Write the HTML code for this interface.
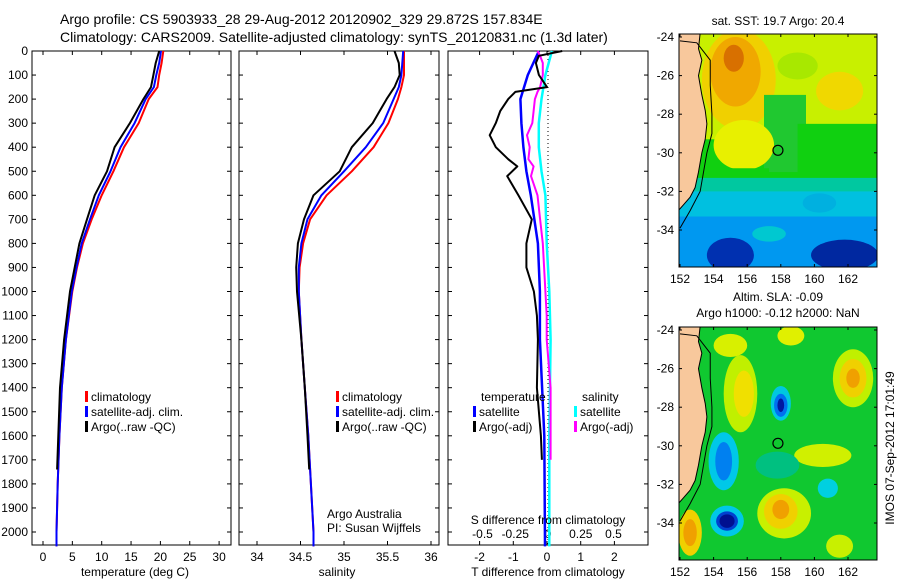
<!DOCTYPE html>
<html><head><meta charset="utf-8"><style>
html,body{margin:0;padding:0;background:#fff;}
svg{display:block;font-family:"Liberation Sans",sans-serif;}
text{fill:#000;}
</style></head><body>
<svg id="fig" width="900" height="580" viewBox="0 0 900 580" xmlns="http://www.w3.org/2000/svg">
<text x="60" y="24" font-size="14">Argo profile: CS 5903933_28 29-Aug-2012 20120902_329 29.872S 157.834E</text>
<text x="60" y="42" font-size="14">Climatology: CARS2009. Satellite-adjusted climatology: synTS_20120831.nc (1.3d later)</text>
<g id="g"></g>
</svg>
<script>
// ---- data ----
const depths = [0,50,100,150,200,300,400,500,600,700,800,900,1000,1200,1400,1600,1800,2000,2060];
const tempClim = [20.5,20.2,19.8,19.5,18.0,16.3,13.8,12.0,10.0,8.3,6.8,5.8,5.0,3.9,3.2,2.8,2.5,2.3,2.3];
const tempSat  = [20.1,19.8,19.3,18.9,17.5,15.6,13.2,11.5,9.5,8.0,6.6,5.7,4.9,3.9,3.2,2.8,2.5,2.3,2.3];
const argoDepths = [0,50,100,150,200,300,400,500,600,700,800,900,1000,1200,1400,1600,1740];
const tempArgo = [19.8,19.2,18.8,18.4,17.1,14.8,12.2,10.9,8.8,7.5,6.2,5.4,4.6,3.6,2.9,2.6,2.4];
const salClim = [35.69,35.69,35.69,35.66,35.62,35.51,35.34,35.09,34.80,34.61,34.53,34.49,34.48,34.51,34.55,34.59,34.62,34.65,34.65];
const salSat  = [35.68,35.67,35.66,35.63,35.57,35.45,35.25,35.00,34.74,34.58,34.51,34.48,34.48,34.51,34.55,34.59,34.62,34.65,34.65];
const salArgo = [35.58,35.63,35.64,35.58,35.49,35.33,35.09,34.95,34.65,34.54,34.47,34.45,34.46,34.51,34.55,34.58,34.60];
const dDepths = [0,20,50,100,150,170,200,250,300,350,400,450,480,520,600,700,800,900,1000,1100,1200,1400,1500,1600,1700];
const dTArgo = [0.45,-0.24,-0.33,-0.24,0.0,-0.94,-1.15,-1.39,-1.52,-1.70,-1.52,-1.15,-0.88,-1.18,-0.85,-0.45,-0.61,-0.61,-0.39,-0.3,-0.27,-0.3,-0.24,-0.18,-0.15];
const dSArgo = [-0.08,-0.06,-0.04,-0.04,-0.06,-0.08,-0.10,-0.11,-0.12,-0.16,-0.14,-0.15,-0.11,-0.13,-0.08,-0.06,-0.04,-0.03,-0.02,-0.01,-0.01,0.02,0.02,0.02,0.02];
const dsDepths = [0,100,200,300,400,500,600,800,1000,1200,1600,2060];
const dTSat = [-0.24,-0.57,-0.79,-0.76,-0.70,-0.61,-0.48,-0.27,-0.21,-0.21,-0.08,-0.06];
const dSSat = [0.03,-0.02,-0.05,-0.07,-0.07,-0.05,-0.02,-0.01,0.01,0.02,0.01,0.01];
const depthTicks = [0,100,200,300,400,500,600,700,800,900,1000,1100,1200,1300,1400,1500,1600,1700,1800,1900,2000];
const tempTicks = [0,5,10,15,20,25,30];
const salTicks = [34,34.5,35,35.5,36];
const salTickLabels = ["34","34.5","35","35.5","36"];
const dTTicks = [-2,-1,0,1,2];
const dSTicks = [-0.5,-0.25,0,0.25,0.5];
const dSTickLabels = ["-0.5","-0.25","0","0.25","0.5"];
const latTicks = [-24,-26,-28,-30,-32,-34];
const lonTicks = [152,154,156,158,160,162];

// ---- helpers ----
const NS="http://www.w3.org/2000/svg";
const G=document.getElementById('g');
function mk(tag,attrs,parent){const e=document.createElementNS(NS,tag);for(const k in attrs)e.setAttribute(k,attrs[k]);(parent||G).appendChild(e);return e;}
const TOP=51,BOT=545;
const yD = d => TOP + d*0.2405;
const PT={x0:32,x1:231,a:43,k:5.87};
const PS={x0:239,x1:439,a:257-34*87,k:87};
const PD={x0:448,x1:648,a:547,k:33.7};
const sx=(p,v)=>p.a+v*p.k;
const dsx=v=>548+v*131;

function frame(p,name){
  const r=mk('rect',{x:p.x0,y:TOP,width:p.x1-p.x0,height:BOT-TOP,fill:'none',stroke:'#000','stroke-width':1});
  
  
  depthTicks.forEach(d=>{mk('line',{x1:p.x0,x2:p.x0+4,y1:yD(d),y2:yD(d),stroke:'#000'});mk('line',{x1:p.x1-4,x2:p.x1,y1:yD(d),y2:yD(d),stroke:'#000'});});
}
function line(xs,ds,color,w,name){
  const pts=xs.map((v,i)=>v.toFixed(1)+','+yD(ds[i]).toFixed(1)).join(' ');
  const l=mk('polyline',{points:pts,fill:'none',stroke:color,'stroke-width':w,'stroke-linejoin':'round'});
  
  
}
function txt(x,y,s,opts){const t=mk('text',Object.assign({x:x,y:y,'font-size':12},opts||{}));t.textContent=s;return t;}
function xticks(p,vals,labels,name){
  vals.forEach((v,i)=>{const x=sx(p,v);mk('line',{x1:x,x2:x,y1:TOP,y2:TOP+4,stroke:'#000'});mk('line',{x1:x,x2:x,y1:BOT-4,y2:BOT,stroke:'#000'});const t=txt(x,561,labels[i],{'text-anchor':'middle'});});
}

// depth labels
depthTicks.forEach(d=>{const t=txt(28,yD(d)+4,String(d),{'text-anchor':'end'});});

// panel 1 temperature
frame(PT,'temperature-panel');
xticks(PT,tempTicks,tempTicks.map(String),'temperature-tick-label');
line(tempClim.map(v=>sx(PT,v)),depths,'#f00',2,'temperature-climatology-line');
line(tempSat.map(v=>sx(PT,v)),depths,'#00f',2,'temperature-satellite-line');
line(tempArgo.map(v=>sx(PT,v)),argoDepths,'#000',2,'temperature-argo-line');
{const t=txt(135,576,'temperature (deg C)',{'text-anchor':'middle'});}

// panel 2 salinity
frame(PS,'salinity-panel');
xticks(PS,salTicks,salTickLabels,'salinity-tick-label');
line(salClim.map(v=>sx(PS,v)),depths,'#f00',2,'salinity-climatology-line');
line(salSat.map(v=>sx(PS,v)),depths,'#00f',2,'salinity-satellite-line');
line(salArgo.map(v=>sx(PS,v)),argoDepths,'#000',2,'salinity-argo-line');
{const t=txt(337,576,'salinity',{'text-anchor':'middle'});}
{const t=txt(327,518,'Argo Australia');}
{const t=txt(327,532,'PI: Susan Wijffels');}

// legends panels 1,2
function legend(x,y,items,name){
  items.forEach((it,i)=>{mk('rect',{x:x,y:y+i*15-10,width:3,height:11,fill:it[1]});const t=txt(x+6,y+i*15,it[0]);});
}
legend(85,401,[['climatology','#f00'],['satellite-adj. clim.','#00f'],['Argo(..raw -QC)','#000']],'temperature-legend');
legend(336,401,[['climatology','#f00'],['satellite-adj. clim.','#00f'],['Argo(..raw -QC)','#000']],'salinity-legend');

// panel 3 differences
frame(PD,'difference-panel');
xticks(PD,dTTicks,dTTicks.map(String),'t-diff-tick-label');
dSTicks.forEach((v,i)=>{const t=txt(dsx(v),538,dSTickLabels[i],{'text-anchor':'middle'});});
mk('line',{x1:548,x2:548,y1:TOP,y2:BOT,stroke:'#000','stroke-dasharray':'1,3'});
line(dTSat.map(v=>sx(PD,v)),dsDepths,'#00f',2.5,'t-diff-satellite-line');
line(dSSat.map(v=>dsx(v)),dsDepths,'#0ff',2.5,'s-diff-satellite-line');
line(dSArgo.map(v=>dsx(v)),dDepths,'#f0f',2,'s-diff-argo-line');
line(dTArgo.map(v=>sx(PD,v)),dDepths,'#000',2,'t-diff-argo-line');
{const t=txt(481,401,'temperature');}
{const t=txt(582,401,'salinity');}
legend(473,416,[['satellite','#00f'],['Argo(-adj)','#000']],'t-diff-legend');
legend(574,416,[['satellite','#0ff'],['Argo(-adj)','#f0f']],'s-diff-legend');
{const t=txt(548,524,'S difference from climatology',{'text-anchor':'middle'});}
{const t=txt(548,576,'T difference from climatology',{'text-anchor':'middle'});}

// ---- maps ----
const MX0=679,MX1=877,MH=233;
const lx=lon=>680+(lon-152)*16.8;
const ly=(top,lat)=>top+3+(-24-lat)*19.3;
let clipN=0;
function map(top,name,blobs,bg){
  clipN++;
  const defs=mk('defs',{});
  const cp=mk('clipPath',{id:'c'+clipN},defs);
  mk('rect',{x:MX0,y:top,width:MX1-MX0,height:MH},cp);
  const g=mk('g',{'clip-path':'url(#c'+clipN+')'});
  
  
  mk('rect',{x:MX0,y:top,width:MX1-MX0,height:MH,fill:bg},g);
  blobs.forEach(b=>{
    if(b[0]==='r')mk('rect',{x:lx(b[1]),y:ly(top,b[2]),width:(b[3]-b[1])*16.8,height:(b[2]-b[4])*19.3,fill:b[5]},g);
    else mk('ellipse',{cx:lx(b[1]),cy:ly(top,b[2]),rx:b[3]*16.8,ry:b[4]*19.3,fill:b[5]},g);
  });
  const coast=[[153.2,-23.8],[153.1,-24.6],[153.3,-25.2],[153.1,-26],[153.3,-27],[153.5,-27.8],[153.6,-28.5],[153.5,-29.3],[153.3,-30],[153.1,-31],[152.9,-31.8],[152.6,-32.3],[152.2,-32.7],[151.9,-33]];
  const pts=[[151.9,-23.8]].concat(coast).map(p=>lx(p[0])+','+ly(top,p[1])).join(' ');
  mk('polygon',{points:pts,fill:'#f8c89c',stroke:'#000','stroke-width':1},g);
  const shelf=[[152,-24.2],[153,-24.3],[153.8,-25.2],[153.8,-26.5],[153.9,-28],[153.9,-29],[153.6,-30],[153.4,-31],[153.2,-32],[152.6,-33],[152,-33.9]];
  mk('polyline',{points:shelf.map(p=>lx(p[0])+','+ly(top,p[1])).join(' '),fill:'none',stroke:'#000','stroke-width':1},g);
  mk('circle',{cx:lx(157.83),cy:ly(top,-29.87),r:5,fill:'none',stroke:'#000','stroke-width':1.2},g);
  mk('rect',{x:MX0,y:top,width:MX1-MX0,height:MH,fill:'none',stroke:'#000'});
  latTicks.forEach(l=>{const y=ly(top,l);mk('line',{x1:MX0,x2:MX0+3,y1:y,y2:y,stroke:'#000'});mk('line',{x1:MX1-3,x2:MX1,y1:y,y2:y,stroke:'#000'});const t=txt(674,y+4,String(l),{'text-anchor':'end'});});
  lonTicks.forEach(l=>{const x=lx(l);mk('line',{x1:x,x2:x,y1:top,y2:top+3,stroke:'#000'});mk('line',{x1:x,x2:x,y1:top+MH-3,y2:top+MH,stroke:'#000'});const t=txt(x,top+MH+16,String(l),{'text-anchor':'middle'});});
}
map(34,'sst-map',[
  ['r',151,-23,165,-29.3,'#c8f000'],
  ['e',155.5,-26.2,2.2,2.6,'#f0d000'],
  ['e',155.3,-25.8,1.5,1.8,'#f0a800'],
  ['e',155.2,-25.1,0.6,0.7,'#d87000'],
  ['e',161.5,-26.8,1.4,1.0,'#f0d800'],
  ['e',159,-25.5,1.2,0.7,'#a8e800'],
  ['r',157,-27,159.5,-31,'#20c830'],
  ['r',159,-28.5,165,-31.5,'#10d010'],
  ['e',155.8,-29.6,1.8,1.3,'#e8f000'],
  ['r',153,-30.8,157.3,-31.5,'#10d010'],
  ['r',151,-31.3,165,-33.3,'#00c8a0'],
  ['r',151,-32,165,-33.3,'#00c0e0'],
  ['r',151,-33.3,165,-37,'#0098f0'],
  ['e',155,-35.3,1.4,0.9,'#0030b0'],
  ['e',161.8,-35.3,2,0.8,'#0028a0'],
  ['e',157.3,-34.2,1.0,0.4,'#00c8d0'],
  ['e',160.3,-32.6,1,0.5,'#00b0e0']
],'#10d010');
map(327,'sla-map',[
  ['e',155.6,-27.3,1.0,2.0,'#c0f000'],['e',155.8,-27.3,0.6,1.2,'#f0e000'],
  ['e',162.3,-26.5,1.2,1.5,'#c0f000'],['e',162.3,-26.5,0.8,1.0,'#f0d000'],['e',162.3,-26.5,0.4,0.5,'#f0a000'],
  ['e',160.5,-30.5,1.7,0.6,'#d0f000'],
  ['e',158.2,-33.5,1.6,1.3,'#c8f000'],['e',158,-33.4,1.0,0.9,'#f0d000'],['e',158,-33.3,0.5,0.5,'#f0a000'],
  ['e',152.6,-34.5,0.7,1.2,'#f0d000'],['e',152.6,-34.5,0.4,0.7,'#f0a000'],
  ['e',158.6,-24.3,0.8,0.5,'#e0f000'],['e',155,-24.8,1.0,0.6,'#d8f000'],['e',161.5,-35.2,0.8,0.6,'#c8f000'],
  ['e',157.8,-31,1.3,0.7,'#00c080'],
  ['e',158,-27.8,0.6,0.9,'#00c8e0'],['e',158,-27.9,0.4,0.6,'#0070f0'],['e',158,-27.9,0.2,0.35,'#0018a0'],
  ['e',154.6,-30.8,0.9,1.5,'#00c8e8'],['e',154.6,-30.8,0.5,1.0,'#0080f0'],
  ['e',154.8,-33.9,1.0,0.8,'#00c8e8'],['e',154.8,-33.9,0.65,0.5,'#0040d0'],['e',154.8,-33.9,0.45,0.35,'#001090'],
  ['e',160.8,-32.2,0.6,0.5,'#00d0e0']
],'#10c830');
{const t=txt(778,25,'sat. SST: 19.7 Argo: 20.4',{'text-anchor':'middle'});}
{const t=txt(778,301,'Altim. SLA: -0.09',{'text-anchor':'middle'});}
{const t=txt(778,317,'Argo h1000: -0.12 h2000: NaN',{'text-anchor':'middle'});}
{const t=txt(0,0,'IMOS 07-Sep-2012 17:01:49',{'text-anchor':'middle',transform:'translate(894,448) rotate(-90)'});}
</script>
</body></html>
